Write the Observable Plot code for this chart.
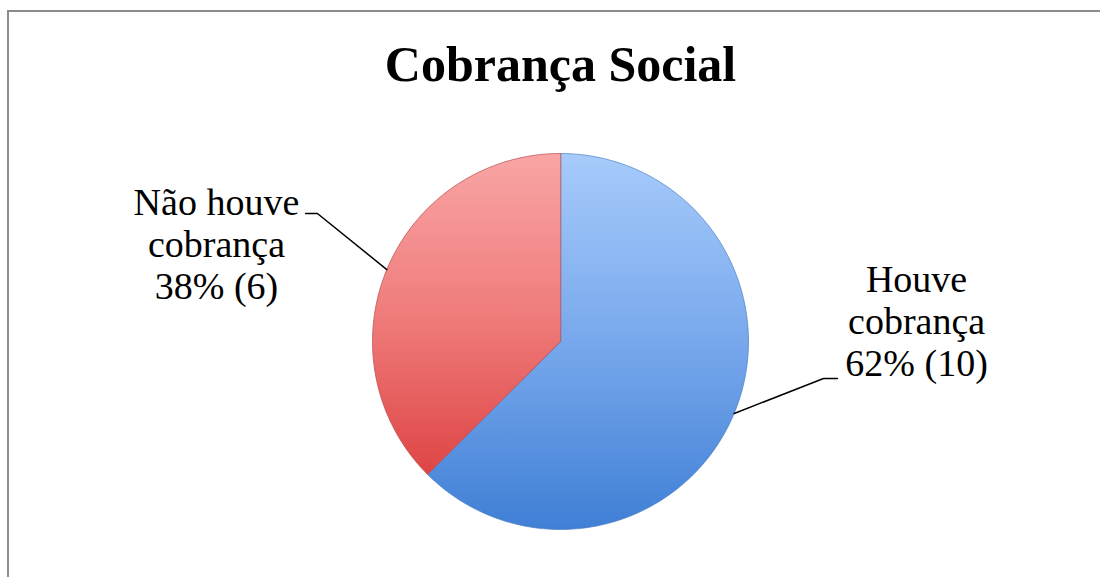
<!DOCTYPE html>
<html>
<head>
<meta charset="utf-8">
<script src="https://cdn.jsdelivr.net/npm/d3@7"></script>
<script src="https://cdn.jsdelivr.net/npm/@observablehq/plot@0.6"></script>
<style>
  html, body { margin: 0; padding: 0; background: #fff; overflow: hidden; }
  #wrap { position: relative; width: 1100px; height: 577px; overflow: hidden; }
  #border { position: absolute; left: 7px; top: 10px; width: 1200px; height: 700px;
            border-top: 2px solid #8c8c8c; border-left: 2px solid #8c8c8c; }
  #chart { position: absolute; left: 0; top: 0; }
</style>
</head>
<body>
<div id="wrap"><div id="border"></div><div id="chart"></div></div>
<script>
// ---- data ----
const title = "Cobrança Social";
const categories = ["Houve cobrança", "Não houve cobrança"];
const counts = [10, 6];
const percents = [62, 38];

// ---- build slices ----
const table = categories.map((c, i) => ({ name: c, count: counts[i], pct: percents[i] }));
const arcs = d3.pie().sort(null).value(d => d.count)(table);

const pts = [];
for (const a of arcs) {
  pts.push({ name: a.data.name, x: 0, y: 0 });
  const n = 120;
  for (let k = 0; k <= n; k++) {
    const t = a.startAngle + (a.endAngle - a.startAngle) * k / n;
    pts.push({ name: a.data.name, x: Math.sin(t), y: Math.cos(t) });
  }
}

// label layout (data units relative to pie radius)
const layout = {
  "Houve cobrança": { elbow: [1.399, -0.197], end: [1.473, -0.197], label: [1.894, 0.11] },
  "Não houve cobrança": { elbow: [-1.293, 0.681], end: [-1.356, 0.681], label: [-1.83, 0.52] }
};
const leaders = [];
const labels = [];
for (const a of arcs) {
  const mid = (a.startAngle + a.endAngle) / 2;
  const L = layout[a.data.name];
  leaders.push({ name: a.data.name, x: Math.sin(mid), y: Math.cos(mid) });
  leaders.push({ name: a.data.name, x: L.elbow[0], y: L.elbow[1] });
  leaders.push({ name: a.data.name, x: L.end[0], y: L.end[1] });
  labels.push({
    x: L.label[0], y: L.label[1],
    text: a.data.name.replace(" cobrança", "\ncobrança") + "\n" + a.data.pct + "% (" + a.data.count + ")"
  });
}

const fills = { "Houve cobrança": "url(#gBlue)", "Não houve cobrança": "url(#gRed)" };
const strokes = { "Houve cobrança": "#4f80c4", "Não houve cobrança": "#b84c4c" };

const cx = 560, cy = 341, R = 188;
const plot = Plot.plot({
  width: 1100, height: 577,
  margin: 0,
  x: { domain: [-1, 1], range: [cx - R, cx + R], axis: null },
  y: { domain: [-1, 1], range: [cy + R, cy - R], axis: null },
  marks: [
    ...categories.map(c => Plot.line(pts.filter(p => p.name === c), {
      x: "x", y: "y", curve: "linear-closed",
      fill: fills[c], stroke: strokes[c], strokeWidth: 1, strokeOpacity: 0.7
    })),
    Plot.line(leaders, { x: "x", y: "y", z: "name", stroke: "#000", strokeWidth: 1.5 }),
    Plot.text(labels, {
      x: "x", y: "y", text: "text", textAnchor: "middle", lineAnchor: "middle",
      lineHeight: 1.1, fontSize: 38, fill: "#000",
      fontFamily: "'Liberation Serif', 'DejaVu Serif', serif"
    }),
    Plot.text([title], {
      frameAnchor: "top", text: d => d, dx: 10, dy: 45, lineAnchor: "top",
      fontSize: 50, fontWeight: "bold", fill: "#000",
      fontFamily: "'Liberation Serif', 'DejaVu Serif', serif"
    })
  ]
});

// gradient definitions
const ns = "http://www.w3.org/2000/svg";
const defs = document.createElementNS(ns, "defs");
defs.innerHTML = `
  <linearGradient id="gBlue" x1="0" y1="0" x2="0" y2="1">
    <stop offset="0" stop-color="#a6cbfb"/>
    <stop offset="0.5" stop-color="#78a8ec"/>
    <stop offset="1" stop-color="#3f7fd5"/>
  </linearGradient>
  <linearGradient id="gRed" x1="0" y1="0" x2="0" y2="1">
    <stop offset="0" stop-color="#f9a5a5"/>
    <stop offset="0.5" stop-color="#f07c7c"/>
    <stop offset="1" stop-color="#de4545"/>
  </linearGradient>`;
plot.insertBefore(defs, plot.firstChild);
plot.style.background = "transparent";
document.getElementById("chart").appendChild(plot);
</script>
</body>
</html>
